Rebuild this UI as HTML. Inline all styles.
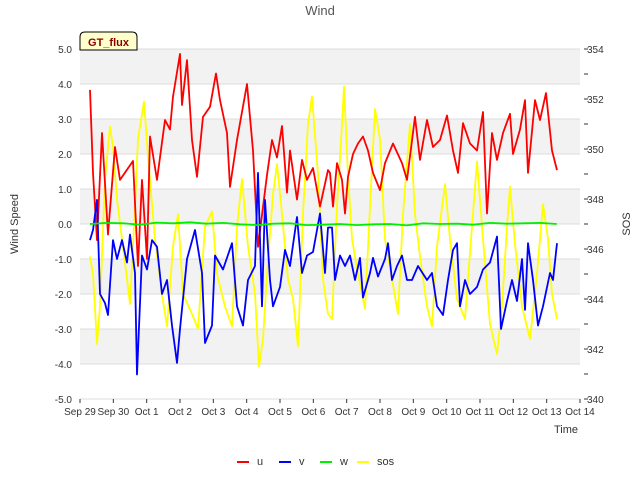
<!DOCTYPE html>
<html><head><meta charset="utf-8"><style>
body{margin:0;background:#fff;}
svg{font-family:"Liberation Sans","DejaVu Sans",sans-serif;}
</style></head><body>
<svg id="chart" width="640" height="480">
<text x="320" y="15" text-anchor="middle" font-size="13" fill="#555">Wind</text>
<g id="bands"></g>
<g id="axes"></g>
<g id="series"></g>
<g>
<path d="M80,50 L80,37 Q80,32 85,32 L132,32 Q137,32 137,37 L137,50 Z" fill="#ffffcc" stroke="#000" stroke-width="1"/>
<text x="108.5" y="46" text-anchor="middle" font-size="11" font-weight="bold" fill="#8b0000">GT_flux</text>
</g>
<text x="18" y="224" text-anchor="middle" font-size="11" fill="#333" transform="rotate(-90 18 224)">Wind Speed</text>
<text x="630" y="224" text-anchor="middle" font-size="11" fill="#333" transform="rotate(-90 630 224)">SOS</text>
<text x="566" y="433" text-anchor="middle" font-size="11" fill="#333">Time</text>
<g id="legend"></g>
</svg>
<script>
const xTickLabels=["Sep 29","Sep 30","Oct 1","Oct 2","Oct 3","Oct 4","Oct 5","Oct 6","Oct 7","Oct 8","Oct 9","Oct 10","Oct 11","Oct 12","Oct 13","Oct 14"];
const yTicks=[5,4,3,2,1,0,-1,-2,-3,-4,-5];
const y2Ticks=[354,352,350,348,346,344,342,340];
const uT=[0.30,0.39,0.51,0.66,0.84,1.05,1.20,1.59,1.74,1.86,2.01,2.10,2.31,2.55,2.70,2.79,3.00,3.06,3.21,3.36,3.51,3.69,3.90,4.08,4.20,4.41,4.50,4.71,5.01,5.19,5.34,5.61,5.76,5.91,6.06,6.21,6.30,6.51,6.66,6.81,6.99,7.20,7.44,7.50,7.59,7.71,7.86,7.95,8.04,8.19,8.34,8.49,8.64,8.79,9.00,9.15,9.39,9.66,9.81,10.05,10.20,10.41,10.59,10.80,11.01,11.19,11.34,11.49,11.70,11.91,12.09,12.21,12.36,12.51,12.69,12.90,12.99,13.20,13.35,13.44,13.65,13.80,13.98,14.16,14.31];
const uV=[3.83,1.46,-0.46,2.6,-0.3,2.2,1.26,1.8,-1.2,1.26,-1.0,2.5,1.26,2.97,2.7,3.64,4.86,3.4,4.68,2.4,1.35,3.06,3.35,4.3,3.54,2.6,1.06,2.4,4.0,2.1,-0.65,1.4,2.4,1.9,2.8,0.9,2.1,0.7,1.83,1.26,1.6,0.5,1.54,1.46,0.5,1.74,1.26,0.3,1.35,2.0,2.3,2.5,2.1,1.46,0.97,1.74,2.3,1.74,1.26,3.06,1.83,2.97,2.2,2.4,3.1,2.1,1.46,2.88,2.3,2.1,3.2,0.3,2.6,1.83,2.6,3.15,2.0,2.7,3.54,1.46,3.54,2.97,3.74,2.1,1.54];
const vT=[0.30,0.39,0.51,0.60,0.75,0.84,0.99,1.11,1.26,1.41,1.50,1.65,1.71,1.86,2.01,2.16,2.31,2.46,2.61,2.76,2.91,3.00,3.21,3.45,3.66,3.75,3.96,4.05,4.29,4.56,4.71,4.89,5.04,5.25,5.34,5.46,5.55,5.70,5.79,6.00,6.15,6.30,6.51,6.66,6.81,6.99,7.20,7.35,7.44,7.56,7.65,7.80,7.95,8.10,8.25,8.40,8.49,8.70,8.79,8.94,9.15,9.24,9.36,9.51,9.66,9.81,9.96,10.14,10.41,10.56,10.71,10.89,11.04,11.19,11.31,11.40,11.55,11.70,11.91,12.09,12.30,12.51,12.63,12.81,12.96,13.11,13.26,13.35,13.44,13.59,13.74,13.89,14.10,14.19,14.31];
const vV=[-0.46,-0.17,0.69,-2.0,-2.26,-2.6,-0.46,-1.0,-0.46,-1.1,-0.3,-1.4,-4.3,-0.9,-1.3,-0.46,-0.65,-2.0,-1.6,-2.9,-3.97,-3.0,-1.0,-0.17,-1.4,-3.4,-2.9,-0.9,-1.3,-0.55,-2.35,-2.9,-1.6,-1.2,1.46,-2.35,0.69,-1.6,-2.35,-1.8,-0.74,-1.2,0.2,-1.4,-0.9,-0.8,0.3,-1.4,-0.1,-0.1,-1.6,-0.9,-1.2,-0.9,-1.6,-0.97,-2.1,-1.4,-0.97,-1.5,-1.0,-0.55,-1.6,-1.2,-0.9,-1.6,-1.6,-1.2,-1.6,-1.4,-2.35,-2.6,-1.6,-0.74,-0.55,-2.35,-1.6,-2.0,-1.8,-1.3,-1.1,-0.36,-3.0,-2.2,-1.6,-2.2,-1.0,-2.45,-0.55,-1.6,-2.9,-2.35,-1.4,-1.6,-0.55];
const wT=[0.3,0.8,1.3,1.8,2.3,2.8,3.3,3.8,4.3,4.8,5.3,5.8,6.3,6.8,7.3,7.8,8.3,8.8,9.3,9.8,10.3,10.8,11.3,11.8,12.3,12.8,13.3,13.8,14.3];
const wV=[0.0,0.03,0.02,-0.02,0.04,0.02,0.05,0.01,0.03,-0.01,-0.03,0.01,0.02,-0.03,-0.02,0.0,-0.03,-0.01,0.0,-0.04,0.02,0.0,0.01,-0.02,0.03,0.01,0.02,0.03,0.0];
const sT=[0.30,0.39,0.51,0.60,0.75,0.90,0.99,1.11,1.26,1.41,1.50,1.65,1.74,1.92,2.04,2.25,2.46,2.61,2.79,2.94,3.09,3.36,3.54,3.75,3.96,4.11,4.35,4.56,4.71,4.86,5.04,5.25,5.37,5.49,5.61,5.79,5.91,6.06,6.24,6.39,6.54,6.69,6.84,6.96,7.14,7.29,7.44,7.56,7.71,7.86,7.92,8.04,8.16,8.34,8.55,8.70,8.85,9.00,9.15,9.36,9.54,9.69,9.90,10.05,10.20,10.41,10.56,10.71,10.95,11.10,11.31,11.55,11.76,11.91,12.09,12.30,12.51,12.66,12.81,12.90,13.05,13.26,13.50,13.71,13.89,14.04,14.16,14.31];
const sV=[345.7,345.0,342.2,343.7,348.8,350.9,350.1,348.0,346.4,344.8,343.8,347.7,350.4,351.9,349.7,346.4,344.2,342.9,346.1,347.4,344.2,343.4,342.8,346.9,347.5,345.0,343.7,342.9,346.9,348.8,346.1,344.2,341.3,342.4,345.0,348.2,349.4,347.4,344.8,344.0,342.1,347.4,351.0,352.1,349.0,344.8,343.4,343.2,347.7,351.0,352.5,349.0,346.4,345.0,343.6,347.7,351.6,350.4,346.4,344.8,343.4,347.4,351.0,347.4,345.7,343.7,342.9,346.1,348.6,346.4,344.0,343.2,346.9,349.5,346.4,343.0,341.8,343.7,346.9,348.5,346.2,343.7,342.4,345.0,347.8,346.4,344.2,343.2];

const X0=80,X1=580,Y0=49,Y1=399;
const xs=t=>X0+(t/15)*(X1-X0);
const ys=v=>Y0+(5-v)/10*(Y1-Y0);
const ys2=v=>Y0+(354-v)/14*(Y1-Y0);
const NS="http://www.w3.org/2000/svg";
function mk(tag,attrs,parent){const e=document.createElementNS(NS,tag);for(const k in attrs)e.setAttribute(k,attrs[k]);parent.appendChild(e);return e;}
const bands=document.getElementById('bands'),axes=document.getElementById('axes'),series=document.getElementById('series'),legend=document.getElementById('legend');
mk('rect',{x:X0,y:Y0,width:X1-X0,height:Y1-Y0,fill:'#fff'},bands);
for(let i=0;i<yTicks.length-1;i++){
  if(i%2===0){const b=mk('rect',{x:X0,y:ys(yTicks[i]),width:X1-X0,height:ys(yTicks[i+1])-ys(yTicks[i]),fill:'#f2f2f2'},bands);
  
  }
}
yTicks.forEach(v=>{
  const l=mk('line',{x1:X0,x2:X1,y1:ys(v),y2:ys(v),stroke:'#dcdcdc','stroke-width':1},axes);
  
  
  const t=mk('text',{x:X0-8,y:ys(v)+4,'text-anchor':'end','font-size':10,fill:'#333'},axes);
  t.textContent=v.toFixed(1);
  
  
});
for(let v=340;v<=354;v++){
  mk('line',{x1:X1+4,x2:X1+8,y1:ys2(v),y2:ys2(v),stroke:'#333','stroke-width':1},axes);
}
y2Ticks.forEach(v=>{
  const t=mk('text',{x:X1+7,y:ys2(v)+4,'font-size':10,fill:'#333'},axes);
  t.textContent=v;
  
  
});
xTickLabels.forEach((s,i)=>{
  mk('line',{x1:xs(i),x2:xs(i),y1:Y1,y2:Y1+4,stroke:'#333'},axes);
  const t=mk('text',{x:xs(i),y:Y1+16,'text-anchor':'middle','font-size':10,fill:'#333'},axes);
  t.textContent=s;
  
  
});
function line(T,V,scale,color,name){
  const n=Math.min(T.length,V.length);let d='';
  for(let i=0;i<n;i++)d+=(i?'L':'M')+xs(T[i]).toFixed(1)+','+scale(V[i]).toFixed(1);
  const p=mk('path',{d:d,fill:'none',stroke:color,'stroke-width':1.8,'stroke-linejoin':'round'},series);
  
  
}
line(sT,sV,ys2,'#ffff00','sos-line');
line(uT,uV,ys,'#ff0000','u-line');
line(vT,vV,ys,'#0000ff','v-line');
line(wT,wV,ys,'#00ee00','w-line');
const leg=[["u","#ff0000",237],["v","#0000ff",279],["w","#00ee00",320],["sos","#ffff00",357]];
leg.forEach(([s,c,x])=>{
  const g=mk('g',{},legend);
  
  
  mk('line',{x1:x,x2:x+12,y1:462,y2:462,stroke:c,'stroke-width':2},g);
  const t=mk('text',{x:x+20,y:465,'font-size':11,fill:'#333'},g);
  t.textContent=s;
});
</script>
</body></html>
